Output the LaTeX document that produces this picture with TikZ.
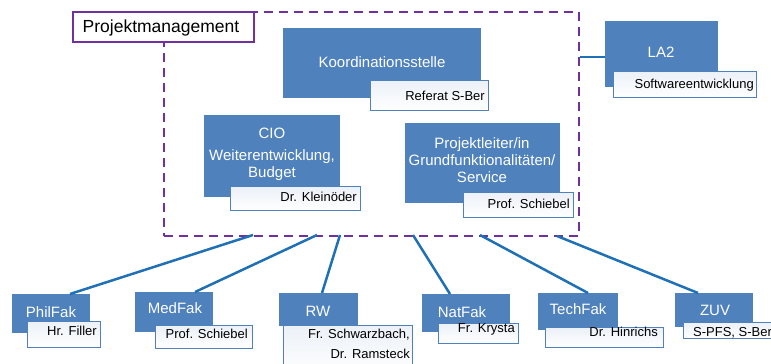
\documentclass[tikz,border=0pt]{standalone}
\usepackage{fontspec}
\setmainfont{Liberation Sans}
\definecolor{boxblue}{RGB}{79,129,189}
\definecolor{lineblue}{RGB}{31,112,180}
\definecolor{pmpurple}{RGB}{112,48,160}
\definecolor{subtop}{RGB}{236,241,248}
\begin{document}
\begin{tikzpicture}[x=1pt,y=-1pt,
  bluebox/.style={fill=boxblue, draw=none, inner sep=0pt, anchor=north west},
  subbox/.style={draw=boxblue, line width=1.3pt, top color=subtop, bottom color=white, inner sep=0pt, anchor=north west},
  pmarea/.style={draw=pmpurple, line width=2pt, dash pattern=on 9pt off 6pt, inner sep=0pt, anchor=north west},
  pmbox/.style={draw=pmpurple, fill=white, line width=1.8pt, inner sep=0pt, anchor=north west},
  conn/.style={draw=lineblue, line width=2.5pt},
  wlabel/.style={text=white, font=\fontsize{15}{17}\selectfont, anchor=base, inner sep=0pt},
  slabel/.style={text=black, font=\fontsize{13}{15}\selectfont, anchor=base east, inner sep=0pt},
  tlabel/.style={text=black, font=\fontsize{17.5}{20}\selectfont, anchor=base, inner sep=0pt}]
\useasboundingbox (0,0) rectangle (771,364);
\clip (0,0) rectangle (771,364);

% project management area
\node[pmarea, minimum width=415pt, minimum height=224pt] (pm) at (163,11) {};
\node[pmbox, minimum width=181pt, minimum height=30pt] (pmtitle) at (72,11) {};
\node[tlabel] (pmtext) at (161,32.3) {Projektmanagement};

% blue boxes
\node[bluebox, minimum width=198pt, minimum height=70pt] (koord) at (283,28) {};
\node[bluebox, minimum width=113pt, minimum height=66pt] (la2) at (605,21) {};
\node[bluebox, minimum width=136pt, minimum height=82pt] (cio) at (204,115) {};
\node[bluebox, minimum width=155pt, minimum height=80pt] (pl) at (405,123) {};
\node[bluebox, minimum width=78pt, minimum height=39pt] (phil) at (12,294) {};
\node[bluebox, minimum width=78pt, minimum height=40pt] (med) at (135,292) {};
\node[bluebox, minimum width=79pt, minimum height=33pt] (rw) at (279,293) {};
\node[bluebox, minimum width=88pt, minimum height=38pt] (nat) at (422,294) {};
\node[bluebox, minimum width=80pt, minimum height=37pt] (tech) at (538,293) {};
\node[bluebox, minimum width=78pt, minimum height=34pt] (zuv) at (675,293) {};

% connectors
\coordinate (d1) at (253,235);
\coordinate (d2) at (317,235);
\coordinate (d3) at (340,235);
\coordinate (d4) at (413,235);
\coordinate (d5) at (480,235);
\coordinate (d6) at (557,236);
\draw[conn] (d1) -- ([xshift=58pt]phil.north west);
\draw[conn] (d2) -- ([xshift=60pt]med.north west);
\draw[conn] (d3) -- ([xshift=43pt]rw.north west);
\draw[conn] (d4) -- ([xshift=28pt]nat.north west);
\draw[conn] (d5) -- ([xshift=50pt]tech.north west);
\draw[conn] (d6) -- ([xshift=23pt]zuv.north west);
\draw[conn] ([yshift=-3pt]la2.west -| pm.east) -- ([yshift=-3pt]la2.west);

% sub boxes
\node[subbox, minimum width=118pt, minimum height=30pt] (koordsub) at (370,80) {};
\node[subbox, minimum width=143pt, minimum height=26pt] (la2sub) at (613,71) {};
\node[subbox, minimum width=130pt, minimum height=24pt] (ciosub) at (230,186) {};
\node[subbox, minimum width=110pt, minimum height=25pt] (plsub) at (463,192) {};
\node[subbox, minimum width=73pt, minimum height=26pt] (philsub) at (27,321) {};
\node[subbox, minimum width=97pt, minimum height=23pt] (medsub) at (155,325) {};
\node[subbox, minimum width=129pt, minimum height=50pt] (rwsub) at (283,325) {};
\node[subbox, minimum width=80pt, minimum height=20pt] (natsub) at (438,323) {};
\node[subbox, minimum width=118pt, minimum height=20pt] (techsub) at (545,327) {};
\node[subbox, minimum width=107pt, minimum height=16pt] (zuvsub) at (683,322) {};

% white labels
\node[wlabel] (koordt) at (382,67) {Koordinationsstelle};
\node[wlabel] (la2t) at (661,57.5) {LA2};
\node[wlabel] (ciot1) at (272,138.3) {CIO};
\node[wlabel] (ciot2) at (272,160.5) {Weiterentwicklung,};
\node[wlabel] (ciot3) at (272,177) {Budget};
\node[wlabel] (plt1) at (482,148) {Projektleiter/in};
\node[wlabel] (plt2) at (482,165) {Grundfunktionalitäten/};
\node[wlabel] (plt3) at (482,182) {Service};
\node[wlabel] (philt) at (51,317.3) {PhilFak};
\node[wlabel] (medt) at (175,313.3) {MedFak};
\node[wlabel] (rwt) at (318,316) {RW};
\node[wlabel] (natt) at (462,317.3) {NatFak};
\node[wlabel] (techt) at (578,314) {TechFak};
\node[wlabel] (zuvt) at (715,315) {ZUV};

% black labels
\node[slabel] (koords) at (485,100) {Referat S-Ber};
\node[slabel] (la2s) at (754,88.3) {Softwareentwicklung};
\node[slabel] (cios) at (357,201.7) {Dr. Kleinöder};
\node[slabel] (pls) at (570,208.3) {Prof. Schiebel};
\node[slabel] (phils) at (97,335) {Hr. Filler};
\node[slabel] (meds) at (248,338.3) {Prof. Schiebel};
\node[slabel] (rws1) at (410,338) {Fr. Schwarzbach,};
\node[slabel] (rws2) at (410,358) {Dr. Ramsteck};
\node[slabel] (nats) at (515,332.7) {Fr. Krysta};
\node[slabel] (techs) at (658,336.7) {Dr. Hinrichs};
\node[slabel, anchor=base west] (zuvs) at (693,336.5) {S-PFS, S-Ber};
\end{tikzpicture}
\end{document}
